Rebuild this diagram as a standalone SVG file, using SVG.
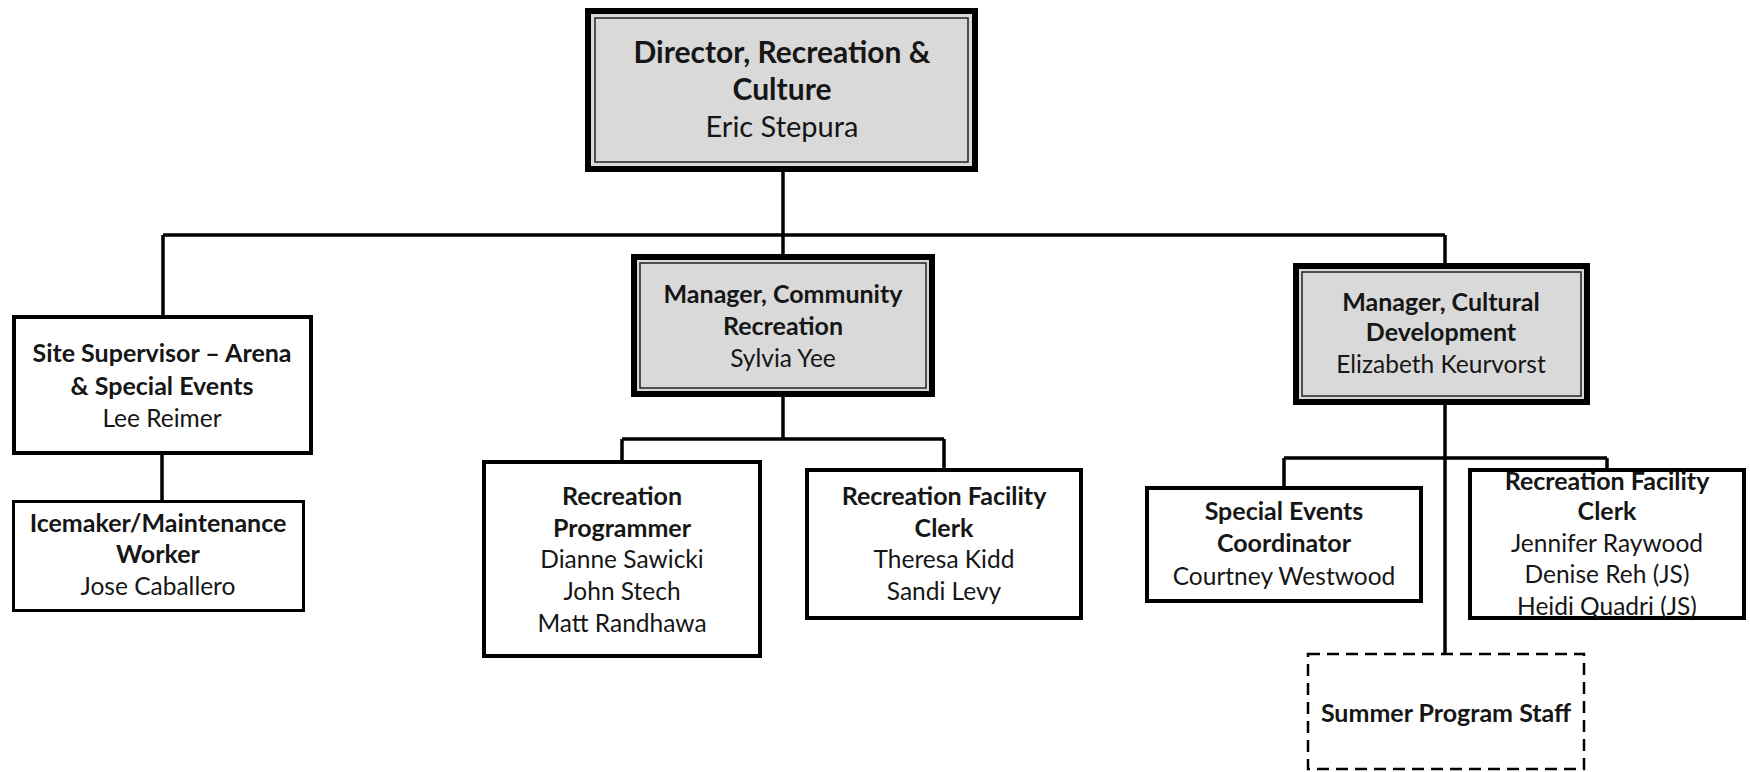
<svg xmlns="http://www.w3.org/2000/svg" width="1750" height="772" viewBox="0 0 1750 772">
<style>
  text { font-family: Lato, "Open Sans", "Liberation Sans", sans-serif; fill: #161616; text-anchor: middle; }
  .t { font-weight: bold; font-size: 25px; }
  .n { font-weight: normal; font-size: 24.5px; }
  .dt { font-weight: bold; font-size: 30px; }
  .dn { font-weight: normal; font-size: 29px; }
  .box { fill: #ffffff; stroke: #000; stroke-width: 4; }
  .box3 { fill: #ffffff; stroke: #000; stroke-width: 3; }
  .mgr { fill: #d9d9d9; stroke: #000; stroke-width: 6; }
  .inner { fill: none; stroke: #222; stroke-width: 1.5; }
  .dash { fill: #ffffff; stroke: #000; stroke-width: 2.5; stroke-dasharray: 12 7; }
  .conn { fill: none; stroke: #000; stroke-width: 3.5; }
</style>
<rect x="0" y="0" width="1750" height="772" fill="#ffffff"/>
<g id="connectors">
  <path class="conn" d="M783 172 V254"/>
  <path class="conn" d="M163 235 H1445"/>
  <path class="conn" d="M163 235 V315"/>
  <path class="conn" d="M1445 235 V263"/>
  <path class="conn" d="M162 455 V500"/>
  <path class="conn" d="M783 397 V439 M622 439 H944 M622 439 V460 M944 439 V468"/>
  <path class="conn" d="M1445 405 V653"/>
  <path class="conn" d="M1284 458 H1607 M1284 458 V486 M1607 458 V468"/>
</g>
<g id="director">
  <rect class="mgr" x="588" y="11" width="387" height="158"/>
  <rect class="inner" x="595" y="18" width="373" height="144"/>
  <text class="dt" x="782" y="63">Director, Recreation &amp;</text>
  <text class="dt" x="782" y="100">Culture</text>
  <text class="dn" x="782" y="137">Eric Stepura</text>
</g>
<g id="site-supervisor">
  <rect class="box" x="14" y="317" width="297" height="136"/>
  <text class="t" x="162" y="362">Site Supervisor – Arena</text>
  <text class="t" x="162" y="395">&amp; Special Events</text>
  <text class="n" x="162" y="427">Lee Reimer</text>
</g>
<g id="icemaker">
  <rect class="box3" x="13.5" y="501.5" width="290" height="109"/>
  <text class="t" x="158" y="532">Icemaker/Maintenance</text>
  <text class="t" x="158" y="563">Worker</text>
  <text class="n" x="158" y="595">Jose Caballero</text>
</g>
<g id="manager-community">
  <rect class="mgr" x="634" y="257" width="298" height="137"/>
  <rect class="inner" x="640" y="263" width="286" height="125"/>
  <text class="t" x="783" y="303">Manager, Community</text>
  <text class="t" x="783" y="335">Recreation</text>
  <text class="n" x="783" y="367">Sylvia Yee</text>
</g>
<g id="manager-cultural">
  <rect class="mgr" x="1296" y="266" width="291" height="136"/>
  <rect class="inner" x="1302" y="272" width="279" height="124"/>
  <text class="t" x="1441" y="311">Manager, Cultural</text>
  <text class="t" x="1441" y="341">Development</text>
  <text class="n" x="1441" y="373">Elizabeth Keurvorst</text>
</g>
<g id="recreation-programmer">
  <rect class="box" x="484" y="462" width="276" height="194"/>
  <text class="t" x="622" y="505">Recreation</text>
  <text class="t" x="622" y="537">Programmer</text>
  <text class="n" x="622" y="568">Dianne Sawicki</text>
  <text class="n" x="622" y="600">John Stech</text>
  <text class="n" x="622" y="632">Matt Randhawa</text>
</g>
<g id="recreation-facility-clerk-1">
  <rect class="box" x="807" y="470" width="274" height="148"/>
  <text class="t" x="944" y="505">Recreation Facility</text>
  <text class="t" x="944" y="537">Clerk</text>
  <text class="n" x="944" y="568">Theresa Kidd</text>
  <text class="n" x="944" y="600">Sandi Levy</text>
</g>
<g id="special-events">
  <rect class="box" x="1147" y="488" width="274" height="113"/>
  <text class="t" x="1284" y="520">Special Events</text>
  <text class="t" x="1284" y="552">Coordinator</text>
  <text class="n" x="1284" y="585">Courtney Westwood</text>
</g>
<g id="recreation-facility-clerk-2">
  <rect class="box" x="1470" y="470" width="274" height="148"/>
  <text class="t" x="1607" y="490">Recreation Facility</text>
  <text class="t" x="1607" y="520">Clerk</text>
  <text class="n" x="1607" y="552">Jennifer Raywood</text>
  <text class="n" x="1607" y="583">Denise Reh (JS)</text>
  <text class="n" x="1607" y="615">Heidi Quadri (JS)</text>
</g>
<g id="summer-program-staff">
  <rect class="dash" x="1308" y="654" width="276" height="115"/>
  <text class="t" x="1446" y="722">Summer Program Staff</text>
</g>
</svg>
